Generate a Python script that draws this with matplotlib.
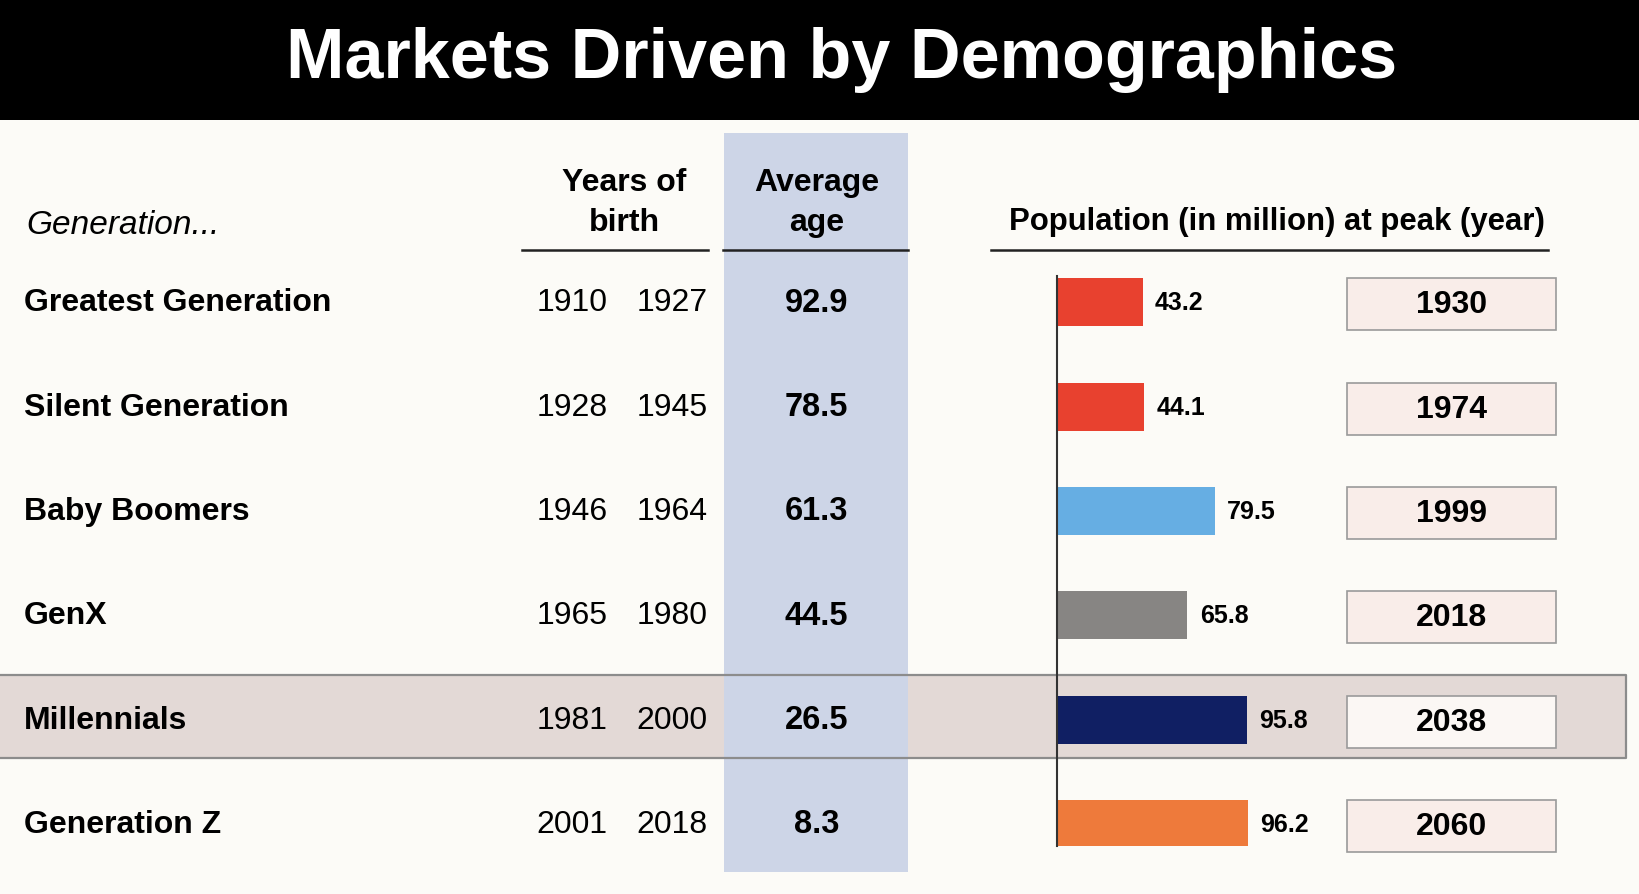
import matplotlib.pyplot as plt
from matplotlib.patches import Rectangle

plt.rcParams['font.family'] = ['Liberation Sans Narrow', 'Liberation Sans', 'DejaVu Sans']

# data
generations = ['Greatest Generation', 'Silent Generation', 'Baby Boomers',
               'GenX', 'Millennials', 'Generation Z']
birth_start = [1910, 1928, 1946, 1965, 1981, 2001]
birth_end = [1927, 1945, 1964, 1980, 2000, 2018]
avg_age = [92.9, 78.5, 61.3, 44.5, 26.5, 8.3]
peak_pop = [43.2, 44.1, 79.5, 65.8, 95.8, 96.2]
peak_year = [1930, 1974, 1999, 2018, 2038, 2060]
bar_colors = ['#e8412f', '#e8412f', '#66aee3', '#878583', '#101f63', '#ee7a3b']

# layout in reference pixels
W, H = 1568, 856
row_y = [290 + 99.8 * i for i in range(len(generations))]
hl = 4  # highlighted row

fig = plt.figure(figsize=(16.39, 8.95), dpi=100)
fig.patch.set_facecolor('#fcfbf7')
bg = fig.add_axes([0, 0, 1, 1])
bg.set_xlim(0, W)
bg.set_ylim(H, 0)
bg.axis('off')

# title bar
bg.add_patch(Rectangle((0, 0), W, 116, facecolor='black', edgecolor='none'))
bg.text(805, 57, 'Markets Driven by Demographics', color='white', fontsize=50.5,
        fontweight='bold', ha='center', va='center', family=['Liberation Sans', 'DejaVu Sans'])

# highlight band + average age column
y0, y1 = row_y[hl] - 43, row_y[hl] + 37
bg.add_patch(Rectangle((0, y0), 1556, y1 - y0, facecolor='#e3d9d6', edgecolor='none', zorder=1))
bg.add_patch(Rectangle((693, 128), 176, 707, facecolor='#cdd5e7', edgecolor='none', zorder=2))
bg.plot([0, 1556, 1556, 0], [y0, y0, y1, y1], color='#8c8c8c', lw=1.6, zorder=3)

# headers
bg.text(25, 216, 'Generation...', fontsize=24, style='italic', ha='left', va='center')
bg.text(597, 194, 'Years of\nbirth', fontsize=23, fontweight='bold', ha='center', va='center',
        linespacing=1.45)
bg.text(781, 194, 'Average\nage', fontsize=23, fontweight='bold', ha='center', va='center',
        linespacing=1.45, zorder=4)
bg.text(1222, 212, 'Population (in million) at peak (year)', fontsize=22.4, fontweight='bold',
        ha='center', va='center')
for xa, xb in [(499, 677), (692, 869), (948, 1481)]:
    bg.plot([xa, xb], [240, 240], color='#222222', lw=1.8, zorder=4)

# table rows
for i, y in enumerate(row_y):
    bg.text(23, y, generations[i], fontsize=23, fontweight='bold', ha='left', va='center', zorder=4)
    bg.text(581, y, str(birth_start[i]), fontsize=23, ha='right', va='center', zorder=4)
    bg.text(677, y, str(birth_end[i]), fontsize=23, ha='right', va='center', zorder=4)
    bg.text(781, y, f'{avg_age[i]}', fontsize=23.5, fontweight='bold', ha='center', va='center', zorder=4)
    box_fc = '#fbf7f4' if i == hl else '#f9ede9'
    bg.add_patch(Rectangle((1289, y - 23), 200, 50, facecolor=box_fc, edgecolor='#9a9a9a',
                           lw=1.2, zorder=4))
    bg.text(1389, y + 2, str(peak_year[i]), fontsize=23, fontweight='bold', ha='center', va='center',
            zorder=5)

# bar chart of peak population
ax = fig.add_axes([1011 / W, 1 - 810 / H, 190 / W, 545 / H])
ax.set_facecolor('none')
ypos = list(range(len(peak_pop)))
ax.barh(ypos, peak_pop, height=0.46, color=bar_colors)
ax.set_xlim(0, 100)
ax.set_ylim(5.21, -0.25)
for s in ['top', 'right', 'bottom']:
    ax.spines[s].set_visible(False)
ax.spines['left'].set_color('#333333')
ax.spines['left'].set_linewidth(1.5)
ax.set_xticks([])
ax.set_yticks([])
for i, v in enumerate(peak_pop):
    ax.text(v + 6.3, i, f'{v}', fontsize=18, fontweight='bold', ha='left', va='center')

fig.savefig('out.png', dpi=100, facecolor=fig.get_facecolor())
